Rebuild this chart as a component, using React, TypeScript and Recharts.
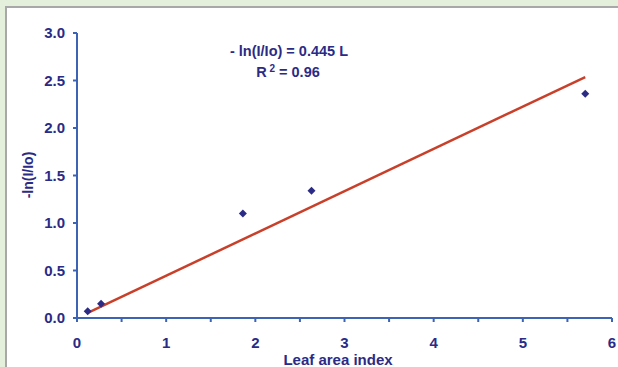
import React from "react";
import { ScatterChart, Scatter, XAxis, YAxis } from "recharts";

const laiValues = [0.12, 0.27, 1.86, 2.63, 5.7];
const lnValues = [0.07, 0.15, 1.1, 1.34, 2.36];
const slope = 0.445;
const trendX = [0.12, 5.7];
const xTicks = [0, 0.5, 1, 1.5, 2, 2.5, 3, 3.5, 4, 4.5, 5, 5.5, 6];
const yTicks = [0, 0.5, 1, 1.5, 2, 2.5, 3];

const points = laiValues.map((x, i) => ({ x, y: lnValues[i] }));
const trend = trendX.map((x) => ({ x, y: slope * x }));

const NAVY = "#2b2b86";
const AXIS = "#3c63b4";
const RED = "#c8402a";
const FONT = "'Liberation Sans', Arial, sans-serif";

const Diamond = (props: any) => {
  const { cx, cy } = props;
  if (cx == null || cy == null) return null;
  const r = 4;
  return (
    <path
      d={`M${cx},${cy - r}L${cx + r},${cy}L${cx},${cy + r}L${cx - r},${cy}Z`}
      fill={NAVY}
    />
  );
};

const NoShape = () => null;

export default function App() {
  return (
    <div
      style={{
        position: "absolute",
        left: 0,
        top: 0,
        width: 618,
        height: 367,
        background: "#e4f0dc",
        overflow: "hidden",
        fontFamily: FONT,
      }}
    >
      <div
        style={{
          position: "absolute",
          left: 5,
          top: 6,
          width: 700,
          height: 500,
          background: "#ffffff",
          border: "2px solid #a8a8a8",
          boxSizing: "border-box",
        }}
      />
      <div style={{ position: "absolute", left: 0, top: 0 }}>
        <ScatterChart
          width={618}
          height={367}
          margin={{ top: 33, right: 6, bottom: 19, left: 27 }}
        >
          <XAxis
            type="number"
            dataKey="x"
            domain={[0, 6]}
            ticks={xTicks}
            interval={0}
            height={30}
            tickFormatter={(v: number) => (Number.isInteger(v) ? String(v) : "")}
            axisLine={{ stroke: AXIS, strokeWidth: 2 }}
            tickLine={{ stroke: AXIS, strokeWidth: 2 }}
            tickSize={4}
            tickMargin={15}
            tick={{ fill: NAVY, fontSize: 15, fontWeight: "bold", fontFamily: FONT }}
            allowDataOverflow
          />
          <YAxis
            type="number"
            dataKey="y"
            domain={[0, 3]}
            ticks={yTicks}
            interval={0}
            width={50}
            tickFormatter={(v: number) => v.toFixed(1)}
            axisLine={{ stroke: AXIS, strokeWidth: 2 }}
            tickLine={{ stroke: AXIS, strokeWidth: 2 }}
            tickSize={4}
            tickMargin={8}
            tick={{ fill: NAVY, fontSize: 15, fontWeight: "bold", fontFamily: FONT }}
            allowDataOverflow
          />
          <Scatter
            data={trend}
            line={{ stroke: RED, strokeWidth: 2.5 }}
            shape={NoShape}
            isAnimationActive={false}
          />
          <Scatter data={points} shape={Diamond} isAnimationActive={false} />
        </ScatterChart>
      </div>
      <svg
        width={618}
        height={367}
        style={{ position: "absolute", left: 0, top: 0, pointerEvents: "none" }}
      >
        <text
          x={289}
          y={55.5}
          textAnchor="middle"
          fill={NAVY}
          fontSize={14.5}
          fontWeight="bold"
          fontFamily={FONT}
        >
          - ln(I/Io) = 0.445 L
        </text>
        <text
          x={288}
          y={77}
          textAnchor="middle"
          fill={NAVY}
          fontSize={14.5}
          fontWeight="bold"
          fontFamily={FONT}
        >
          R
          <tspan dy={-5} fontSize={10}> 2</tspan>
          <tspan dy={5}> = 0.96</tspan>
        </text>
        <text
          x={338}
          y={365}
          textAnchor="middle"
          fill={NAVY}
          fontSize={15}
          fontWeight="bold"
          fontFamily={FONT}
        >
          Leaf area index
        </text>
        <text
          x={0}
          y={0}
          transform="translate(33,175) rotate(-90)"
          textAnchor="middle"
          fill={NAVY}
          fontSize={14}
          fontWeight="bold"
          fontFamily={FONT}
        >
          -ln(I/Io)
        </text>
      </svg>
    </div>
  );
}
